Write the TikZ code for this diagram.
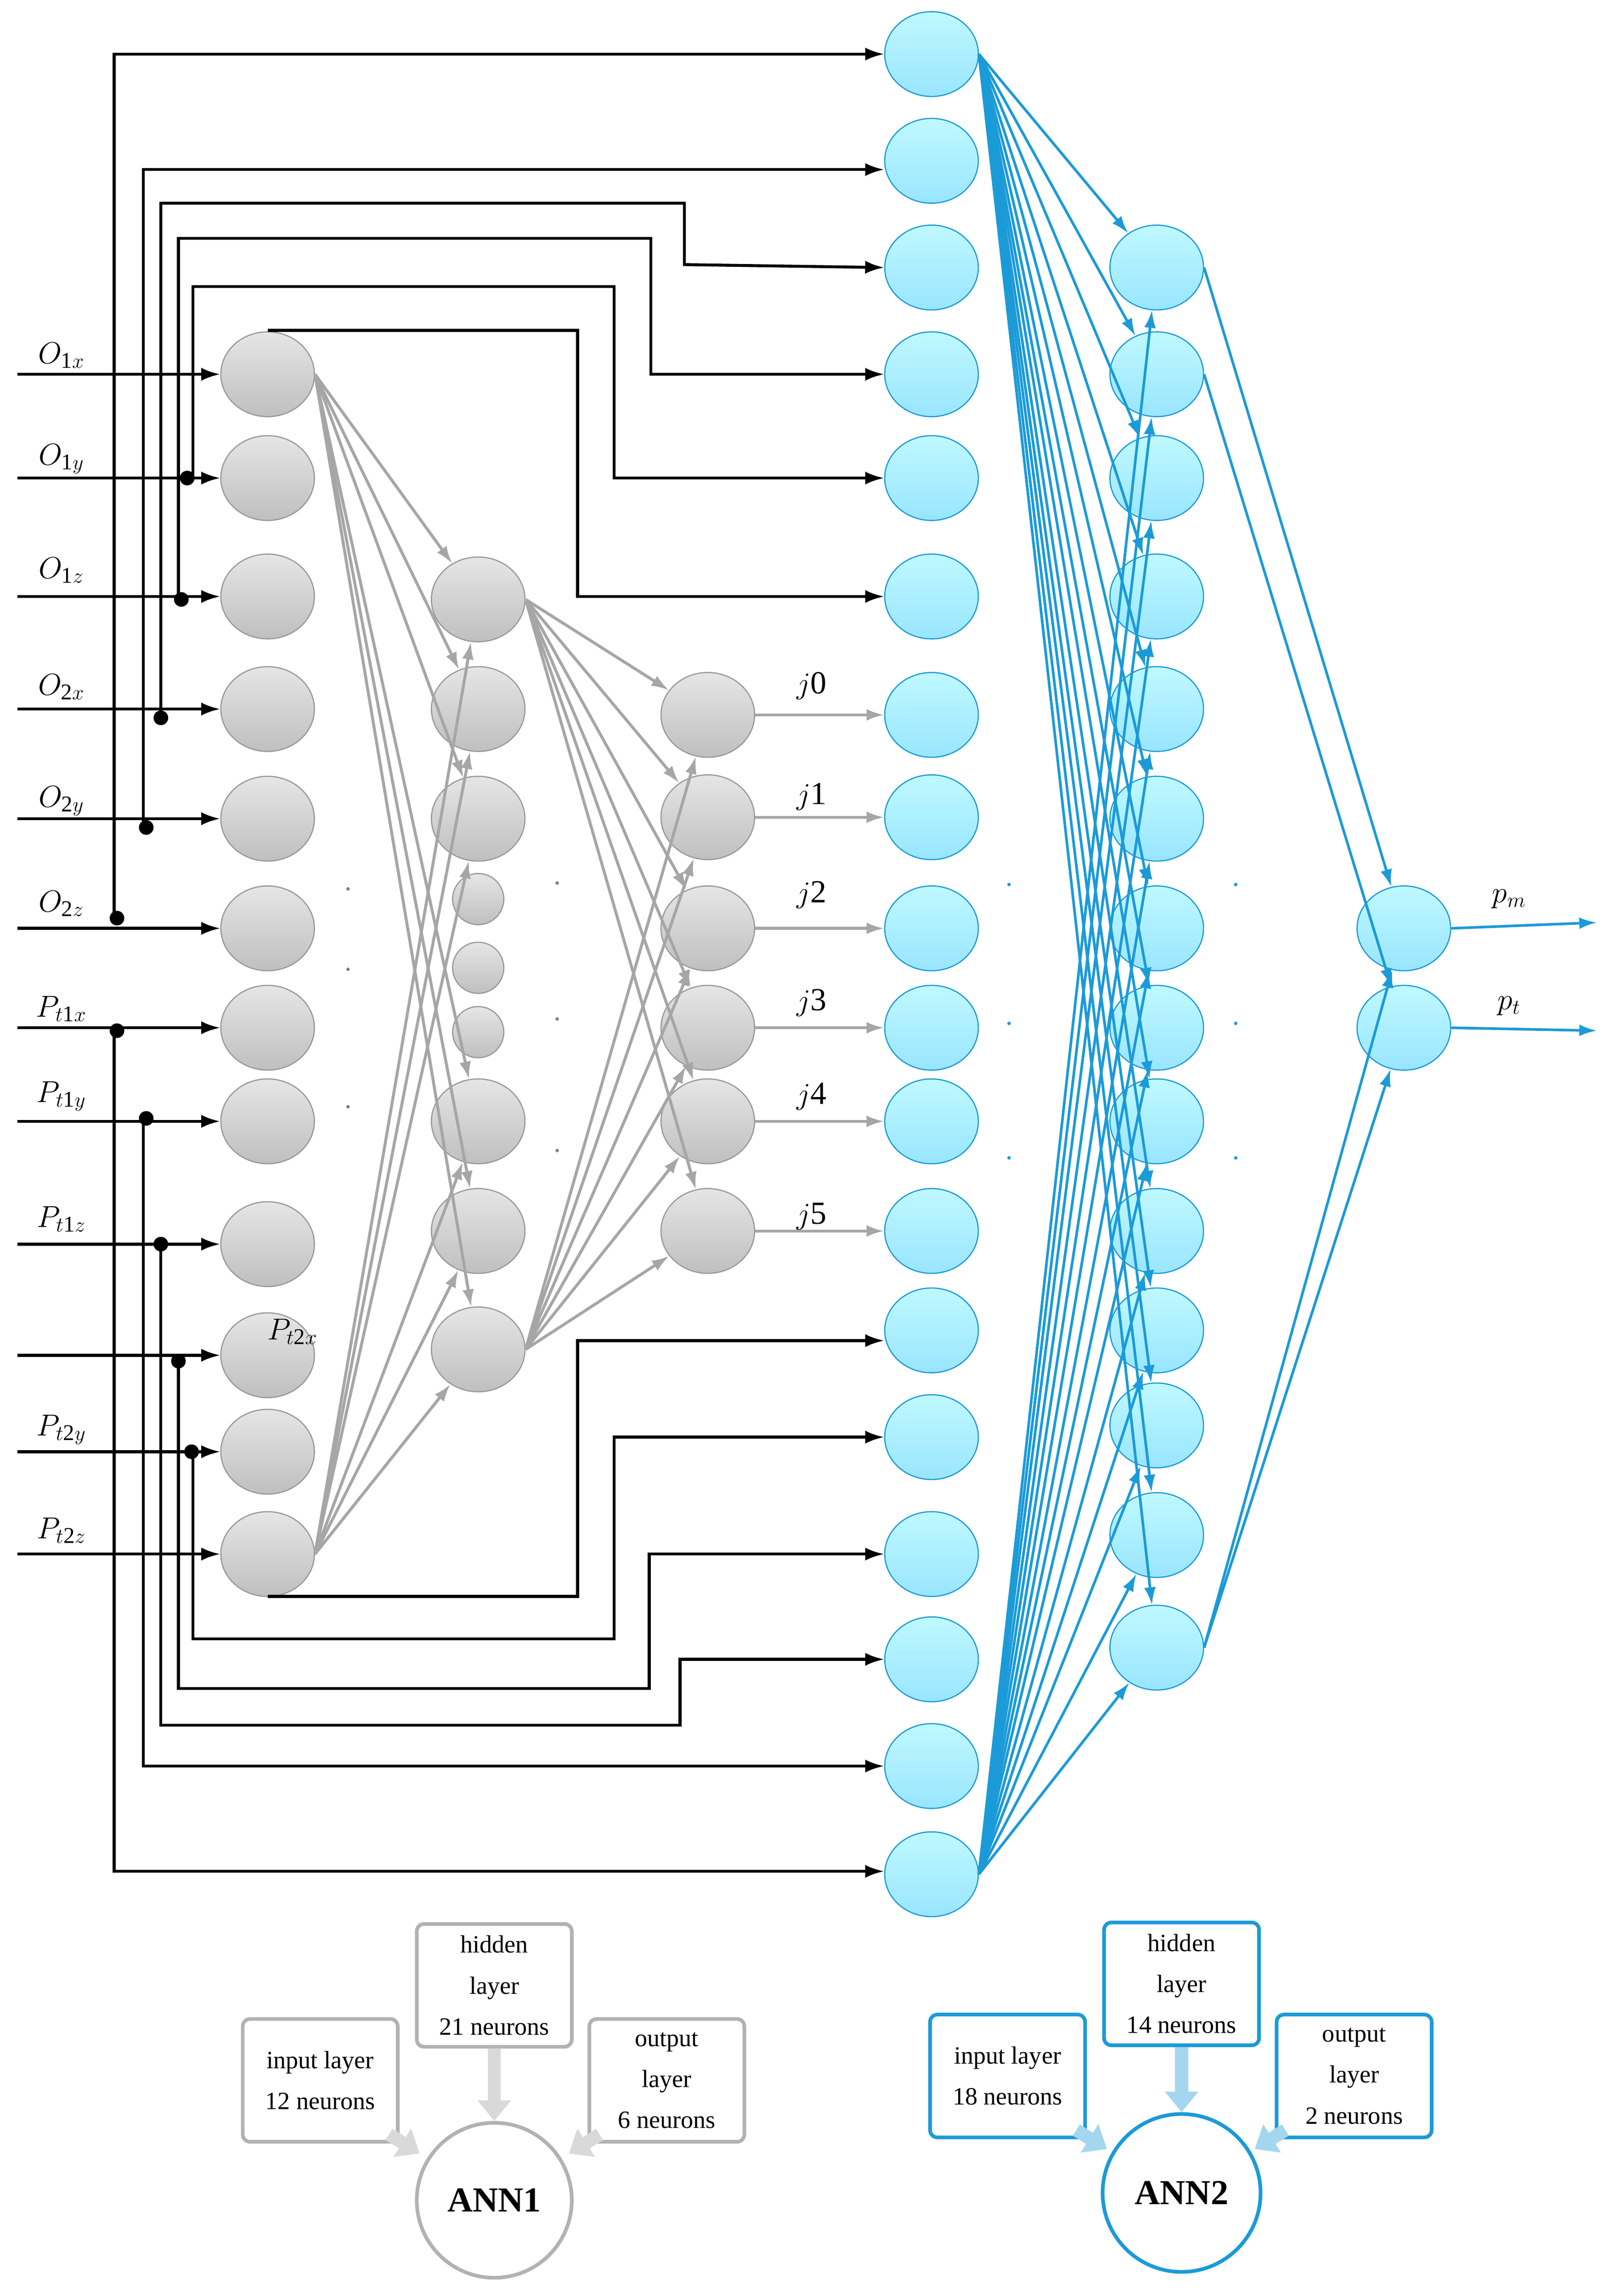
\documentclass[tikz,border=0pt]{standalone}
\usepackage{fontspec}
\setmainfont{Liberation Serif}
\usetikzlibrary{shapes.geometric,arrows.meta}
\definecolor{bl}{HTML}{1B9AD8}
\definecolor{gl}{HTML}{A6A6A6}
\tikzset{
 gn/.style={ellipse,minimum width=64pt,minimum height=58pt,draw=gray!80,top color=gray!20,bottom color=gray!50,line width=0.8pt},
 gs/.style={circle,minimum size=35pt,draw=gray!80,top color=gray!20,bottom color=gray!50,line width=0.8pt},
 bn/.style={ellipse,minimum width=64pt,minimum height=58pt,draw=bl,top color=blue!10!cyan!25,bottom color=blue!25!cyan!40,line width=0.8pt},
 blk/.style={line width=2pt,-{Latex[length=13pt,width=9pt]}},
 gry/.style={gl,line width=2pt,-{Latex[length=12pt,width=8pt]}},
 blu/.style={bl,line width=1.8pt,-{Latex[length=12pt,width=8pt]}},
 lab/.style={font=\fontsize{22}{24}\selectfont},
 box/.style={draw,rounded corners=5pt,line width=2.5pt,minimum width=106pt,minimum height=84pt,align=center,font=\fontsize{17}{28}\selectfont},
 dt/.style={circle,fill,inner sep=0pt,minimum size=10pt}
}
\begin{document}
\begin{tikzpicture}[x=1pt,y=-1pt]
\useasboundingbox[fill=white] (0,0) rectangle (1100,1570.5);
% gray input
\foreach \y [count=\i] in {256,327,408,485,560,635,703,767,851,927,993,1063} \node[gn] (i\i) at (183,\y) {};
\foreach \y [count=\i] in {410,485,560,767,842,923} \node[gn] (g\i) at (327,\y) {};
\foreach \y [count=\i] in {615,662,706} \node[gs] (s\i) at (327,\y) {};
\foreach \y [count=\i] in {489,559,635,703,767,842} \node[gn] (k\i) at (484,\y) {};
% blue
\foreach \y [count=\i] in {37,110,183,256,327,408,489,559,635,703,767,842,910,983,1063,1135,1208,1282} \node[bn] (b\i) at (637,\y) {};
\foreach \y [count=\i] in {183,256,327,408,485,560,635,703,767,842,910,975,1050,1127} \node[bn] (h\i) at (791,\y) {};
\node[bn] (o1) at (960,635) {};
\node[bn] (o2) at (960,703) {};
% input arrows and labels
\foreach \y [count=\i] in {256,327,408,485,560,635,703,767,851,927,993,1063} \draw[blk] (12,\y) -- (i\i.west);
\node[lab] at (42,243) {$O_{\mathrm{1}x}$};
\node[lab] at (42,314) {$O_{\mathrm{1}y}$};
\node[lab] at (42,390) {$O_{\mathrm{1}z}$};
\node[lab] at (42,470) {$O_{\mathrm{2}x}$};
\node[lab] at (42,548) {$O_{\mathrm{2}y}$};
\node[lab] at (42,618) {$O_{\mathrm{2}z}$};
\node[lab] at (42,690) {$P_{t\mathrm{1}x}$};
\node[lab] at (42,750) {$P_{t\mathrm{1}y}$};
\node[lab] at (42,834) {$P_{t\mathrm{1}z}$};
\node[lab] at (200,911) {$P_{t\mathrm{2}x}$};
\node[lab] at (42,978) {$P_{t\mathrm{2}y}$};
\node[lab] at (42,1047) {$P_{t\mathrm{2}z}$};
% top feedback
\draw[blk] (78,628) -- (78,37) -- (b1.west);
\draw[blk] (98,566) -- (98,116) -- (b2.west|-0,116);
\draw[blk] (110,491) -- (110,139) -- (468,139) -- (468,181) -- (b3.west);
\draw[blk] (122,410) -- (122,163) -- (445,163) -- (445,256) -- (b4.west);
\draw[blk] (132,327) -- (132,196) -- (420,196) -- (420,327) -- (b5.west);
\draw[blk] (183,226) -- (395,226) -- (395,408) -- (b6.west);
% bottom feedback
\draw[blk] (183,1092) -- (395,1092) -- (395,917) -- (b13.west|-0,917);
\draw[blk] (132,993) -- (132,1121) -- (420,1121) -- (420,983) -- (b14.west);
\draw[blk] (122,927) -- (122,1155) -- (444,1155) -- (444,1063) -- (b15.west);
\draw[blk] (110,851) -- (110,1180) -- (465,1180) -- (465,1135) -- (b16.west);
\draw[blk] (98,767) -- (98,1208) -- (b17.west);
\draw[blk] (78,703) -- (78,1280) -- (b18.west|-0,1280);
\foreach \p in {(80,628),(100,566),(110,491),(124,410),(128,327),(80,705),(100,765),(110,851),(122,931),(131,993)} \node[dt] at \p {};
% ANN1 connections
\foreach \j in {1,...,6} {\draw[gry] (i1.east) -- (g\j); \draw[gry] (i12.east) -- (g\j);
  \draw[gry] (g1.east) -- (k\j); \draw[gry] (g6.east) -- (k\j);}
\foreach \j/\b in {1/7,2/8,3/9,4/10,5/11,6/12} \draw[gry] (k\j.east) -- (b\b.west);
\foreach \y/\n in {469/0,545/1,612/2,686/3,750/4,832/5} \node[lab] at (555,\y) {$j$\n};
% ANN2 connections
\foreach \j in {1,...,14} {\draw[blu] (b1.east) -- (h\j); \draw[blu] (b18.east) -- (h\j);}
\draw[blu] (h1.east) -- (o1); \draw[blu] (h2.east) -- (o2);
\draw[blu] (h14.east) -- (o1); \draw[blu] (h14.east) -- (o2);
\draw[blu] (o1.east) -- (1092,631);
\draw[blu] (o2.east) -- (1092,705);
\node[lab] at (1032,615) {$p_m$};
\node[lab] at (1032,688) {$p_t$};
% dots
\foreach \p in {(238,608),(238,663),(238,757),(381,604),(381,697),(381,787)} \fill[gray] \p circle (1.2);
\foreach \p in {(690,605),(690,700),(690,792),(845,605),(845,700),(845,792)} \fill[bl] \p circle (1.2);
% legend ANN1
\node[circle,draw=gray!60,line width=2.5pt,minimum size=106pt,font=\fontsize{24}{26}\selectfont\bfseries] (a1) at (338,1505) {ANN1};
\node[box,draw=gray!60] (x1) at (219,1423) {input layer\\12 neurons};
\node[box,draw=gray!60] (x2) at (338,1358) {hidden\\layer\\21 neurons};
\node[box,draw=gray!60] (x3) at (456,1423) {output\\layer\\6 neurons};
\draw[gray!30,line width=9pt,-{Triangle[length=14pt,width=22pt]}] (x2.south) -- (a1.north);
\draw[gray!30,line width=9pt,-{Triangle[length=14pt,width=22pt]}] (266,1460) -- (287,1473);
\draw[gray!30,line width=9pt,-{Triangle[length=14pt,width=22pt]}] (410,1460) -- (389,1473);
% legend ANN2
\node[circle,draw=bl,line width=2.5pt,minimum size=108pt,font=\fontsize{24}{26}\selectfont\bfseries] (a2) at (808,1500) {ANN2};
\node[box,draw=bl] (y1) at (689,1420) {input layer\\18 neurons};
\node[box,draw=bl] (y2) at (808,1357) {hidden\\layer\\14 neurons};
\node[box,draw=bl] (y3) at (926,1420) {output\\layer\\2 neurons};
\draw[bl!40,line width=9pt,-{Triangle[length=14pt,width=22pt]}] (y2.south) -- (a2.north);
\draw[bl!40,line width=9pt,-{Triangle[length=14pt,width=22pt]}] (736,1457) -- (757,1470);
\draw[bl!40,line width=9pt,-{Triangle[length=14pt,width=22pt]}] (879,1457) -- (858,1470);
\end{tikzpicture}
\end{document}
